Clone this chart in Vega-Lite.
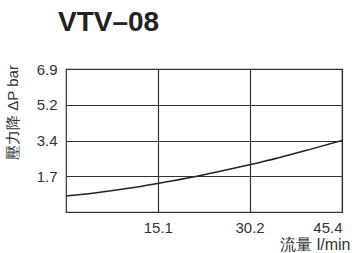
{
  "$schema": "https://vega.github.io/schema/vega-lite/v6.json",
  "width": 276,
  "height": 143,
  "autosize": "none",
  "padding": {"left": 66, "top": 69, "right": 17, "bottom": 41},
  "background": "white",
  "title": {
    "text": "VTV–08",
    "anchor": "start",
    "frame": "group",
    "dx": -8,
    "offset": 3,
    "baseline": "alphabetic",
    "font": "Liberation Sans",
    "fontSize": 28,
    "fontWeight": "bold",
    "color": "#222222"
  },
  "config": {
    "view": {"stroke": "#333333", "strokeWidth": 1.2},
    "axis": {
      "labelFont": "Liberation Sans",
      "titleFont": "Liberation Sans",
      "labelColor": "#333333",
      "titleColor": "#333333",
      "labelFontSize": 15,
      "titleFontSize": 15,
      "titleFontWeight": "normal",
      "gridColor": "#333333",
      "gridOpacity": 1,
      "gridWidth": 1.2,
      "domain": false,
      "ticks": false
    }
  },
  "data": {
    "values": [
      {"q": 0, "p": 0.77},
      {"q": 5, "p": 0.93},
      {"q": 10, "p": 1.13},
      {"q": 15.1, "p": 1.38},
      {"q": 20, "p": 1.64},
      {"q": 25, "p": 1.94},
      {"q": 30.2, "p": 2.28},
      {"q": 35, "p": 2.62},
      {"q": 40, "p": 3.01},
      {"q": 45.4, "p": 3.45}
    ]
  },
  "mark": {"type": "line", "color": "#222222", "strokeWidth": 1.5, "interpolate": "monotone", "clip": true},
  "encoding": {
    "x": {
      "field": "q",
      "type": "quantitative",
      "scale": {"domain": [0, 45.4], "nice": false, "zero": false},
      "axis": {
        "values": [15.1, 30.2, 45.4],
        "format": ".1f",
        "grid": true,
        "labelPadding": 8,
        "title": "流量 l/min",
        "titleFontSize": 16,
        "titleAnchor": "end",
        "titleAlign": "right",
        "titleX": 284,
        "titleY": 37,
        "titleBaseline": "alphabetic"
      }
    },
    "y": {
      "field": "p",
      "type": "quantitative",
      "scale": {"domain": [0, 6.9], "nice": false, "zero": true},
      "axis": {
        "values": [1.725, 3.45, 5.175, 6.9],
        "labelExpr": "datum.value < 2 ? '1.7' : datum.value < 4 ? '3.4' : datum.value < 6 ? '5.2' : '6.9'",
        "grid": true,
        "labelPadding": 9,
        "title": "壓力降 ΔP bar",
        "titleFontSize": 15,
        "titleAngle": -90,
        "titleX": -54,
        "titleY": 43,
        "titleAlign": "center",
        "titleBaseline": "middle",
        "titleAnchor": null
      }
    }
  }
}
